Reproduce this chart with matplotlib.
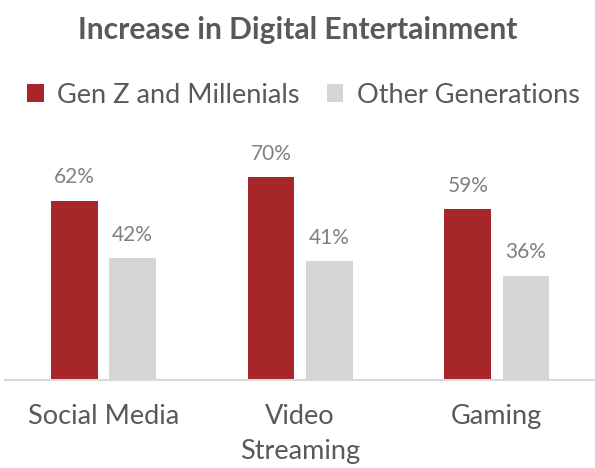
import matplotlib
matplotlib.use('Agg')
import matplotlib.pyplot as plt
import numpy as np

plt.rcParams['font.family'] = ['Lato', 'DejaVu Sans']

categories = ['Social Media', 'Video\nStreaming', 'Gaming']
genz = [62, 70, 59]
others = [42, 41, 36]
series_names = ['Gen Z and Millenials', 'Other Generations']

red = '#A6262A'
grey = '#D5D5D5'
text_grey = '#595959'

fig = plt.figure(figsize=(5.95, 4.68), dpi=100)
ax = fig.add_axes([0.0084, 0.188, 0.992, 0.535])

x = np.arange(len(categories))
w = 0.237
off = 0.148
b1 = ax.bar(x - off, genz, w, color=red, label=series_names[0])
b2 = ax.bar(x + off, others, w, color=grey, label=series_names[1])

for bars, vals in ((b1, genz), (b2, others)):
    for bar, v in zip(bars, vals):
        ax.text(bar.get_x() + bar.get_width() / 2, v + 4.6, f'{v}%',
                ha='center', va='bottom', fontsize=15, color='#808080')

ax.set_xlim(-0.5, 2.5)
ax.set_ylim(0, 86.5)
ax.set_xticks(x)
ax.set_xticklabels(categories, fontsize=19.5, color=text_grey, linespacing=1.5)
ax.tick_params(axis='x', length=0, pad=17)
ax.set_yticks([])
for s in ['top', 'right', 'left']:
    ax.spines[s].set_visible(False)
ax.spines['bottom'].set_color('#D9D9D9')
ax.spines['bottom'].set_linewidth(1.5)

fig.text(0.5, 0.936, 'Increase in Digital Entertainment', ha='center', va='center',
         fontsize=21.6, fontweight='bold', color=text_grey)

fig.legend(handles=[b1, b2], labels=series_names, loc='center', ncol=2,
           bbox_to_anchor=(0.51, 0.797), frameon=False, fontsize=19.5,
           handlelength=0.6, handleheight=0.6, handletextpad=0.5,
           columnspacing=1.0, labelcolor=text_grey)

fig.savefig('out.png', dpi=100)
